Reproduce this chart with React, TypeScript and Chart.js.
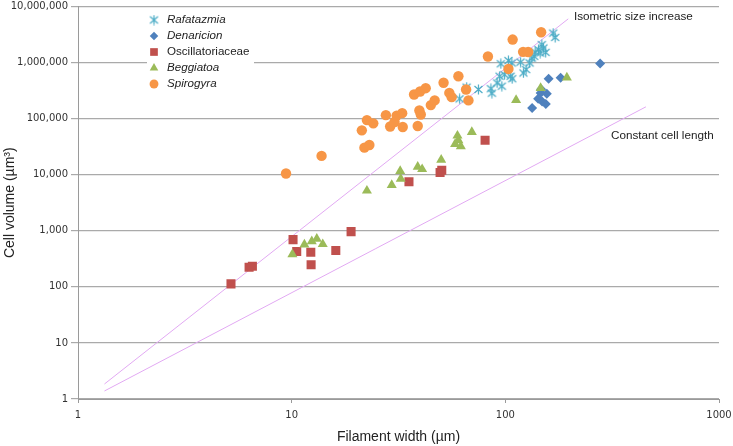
import React, { useEffect, useRef } from "react";
import { Chart, registerables } from "chart.js";
import { drawPoint } from "chart.js/helpers";

Chart.register(...registerables);

const seriesNames = ["Rafatazmia", "Denaricion", "Oscillatoriaceae", "Beggiatoa", "Spirogyra"];
const seriesItalic = [true, true, false, true, true];
const seriesColors = ["#4bacc6", "#4f81bd", "#c0504d", "#9bbb59", "#f79646"];

const rafatazmiaWidth = [61.1, 65.9, 74.8, 85.6, 86.5, 91.5, 96.3, 95.3, 94.0, 99.2, 103.4, 107.3, 105.9, 107.6, 117.9, 121.5, 125.1, 130.0, 133.1, 137.9, 142.9, 148.2, 145.5, 150.8, 154.4, 167.4, 171.1, 136.4];
const rafatazmiaVolume = [225000, 363000, 330000, 341000, 284000, 432000, 378000, 948000, 569000, 605000, 1081000, 980000, 569000, 513000, 1017000, 651000, 748000, 980000, 1202000, 1537000, 1694000, 2080000, 1475000, 1811000, 1517000, 3342000, 2803000, 1288000];

const denaricionWidth = [277.8, 159.4, 181.5, 147.1, 146.3, 156.4, 142.4, 148.7, 154.7, 133.5];
const denaricionVolume = [955000, 513000, 535000, 334000, 286000, 278000, 226000, 202000, 181000, 154000];

const oscillatoriaceaeWidth = [5.2, 6.32, 6.55, 10.15, 10.56, 12.29, 12.33, 16.09, 18.97, 35.4, 49.5, 50.4, 80.4];
const oscillatoriaceaeVolume = [113, 224, 233, 695, 425, 413, 247, 443, 964, 7450, 10900, 12000, 41000];

const beggiatoaWidth = [10.08, 11.47, 12.42, 13.11, 13.98, 22.5, 29.4, 32.2, 32.4, 38.9, 40.8, 50.1, 59.7, 60.3, 58.2, 61.9, 69.7, 112.3, 146.3, 194.1];
const beggiatoaVolume = [380, 565, 650, 720, 575, 5180, 6500, 11600, 8400, 13800, 12500, 18400, 49500, 40800, 35200, 32000, 57400, 214000, 350000, 538000];

const spirogyraWidth = [9.41, 13.8, 21.3, 22.5, 24.1, 21.9, 23.1, 27.6, 28.9, 30.3, 31.0, 32.9, 33.1, 37.4, 39.9, 42.4, 38.9, 39.6, 40.2, 44.8, 46.7, 51.4, 54.7, 56.1, 60.3, 65.5, 67.2, 82.9, 103.4, 108.2, 121.1, 127.9, 147.1];
const spirogyraVolume = [10500, 21600, 61700, 94000, 82200, 30300, 33800, 115000, 72100, 86700, 113000, 125000, 70600, 269000, 304000, 348000, 73600, 139000, 118000, 174000, 211000, 436000, 287000, 241000, 569000, 330000, 211000, 1279000, 767000, 2562000, 1549000, 1537000, 3466000];

const isometricWidth = [1.33, 197];
const isometricVolume = [1.85, 6.0e6];
const constantWidth = [1.33, 455];
const constantVolume = [1.39, 162000];

const xTicks = [1, 10, 100, 1000];
const yTicks = [1, 10, 100, 1000, 10000, 100000, 1000000, 10000000];

const isometricLabel = "Isometric size increase";
const constantLabel = "Constant cell length";
const xTitle = "Filament width (µm)";
const yTitle = "Cell volume (µm³)";

const toPoints = (xs: number[], ys: number[]) => xs.map((x, i) => ({ x, y: ys[i] }));

function makeStar(color: string) {
  const c = document.createElement("canvas");
  c.width = 11;
  c.height = 11;
  const g = c.getContext("2d")!;
  g.strokeStyle = color;
  g.lineWidth = 1.2;
  g.beginPath();
  g.moveTo(1.5, 2);
  g.lineTo(9.5, 9);
  g.moveTo(9.5, 2);
  g.lineTo(1.5, 9);
  g.moveTo(5.5, 0.5);
  g.lineTo(5.5, 10.5);
  g.stroke();
  return c;
}

export default function App() {
  const ref = useRef<HTMLCanvasElement | null>(null);

  useEffect(() => {
    if (!ref.current) return;
    const star = makeStar(seriesColors[0]);
    const styles: any[] = [star, "rectRot", "rect", "triangle", "circle"];
    const radii = [5, 5, 6.4, 5.8, 5.2];
    const xs = [rafatazmiaWidth, denaricionWidth, oscillatoriaceaeWidth, beggiatoaWidth, spirogyraWidth];
    const ys = [rafatazmiaVolume, denaricionVolume, oscillatoriaceaeVolume, beggiatoaVolume, spirogyraVolume];

    const scatterSets = seriesNames.map((name, i) => ({
      type: "scatter" as const,
      label: name,
      data: toPoints(xs[i], ys[i]),
      pointStyle: styles[i],
      pointRadius: radii[i],
      backgroundColor: seriesColors[i],
      borderColor: seriesColors[i],
      borderWidth: 0,
      order: 5 - i,
    }));

    const lineSets = [
      { w: isometricWidth, v: isometricVolume, label: isometricLabel },
      { w: constantWidth, v: constantVolume, label: constantLabel },
    ].map((l) => ({
      type: "line" as const,
      label: l.label,
      data: toPoints(l.w, l.v),
      borderColor: "#e2a9f3",
      borderWidth: 1,
      pointRadius: 0,
      showLine: true,
      fill: false,
      order: 10,
    }));

    const overlay = {
      id: "overlay",
      afterDatasetsDraw(chart: any) {
        const ctx = chart.ctx as CanvasRenderingContext2D;
        ctx.save();
        ctx.fillStyle = "#ffffff";
        ctx.fillRect(147, 9, 107, 86);
        seriesNames.forEach((name, i) => {
          const y = 20 + i * 16;
          ctx.fillStyle = seriesColors[i];
          ctx.strokeStyle = seriesColors[i];
          drawPoint(ctx, { pointStyle: styles[i], radius: radii[i] * 0.85, rotation: 0, borderWidth: 0 } as any, 154, y);
          ctx.fillStyle = "#222";
          ctx.textAlign = "left";
          ctx.textBaseline = "middle";
          ctx.font = `${seriesItalic[i] ? "italic " : ""}11.6px "Liberation Sans"`;
          ctx.fillText(name, 167, y);
        });
        ctx.font = '11.7px "Liberation Sans"';
        ctx.fillStyle = "#222";
        ctx.textBaseline = "middle";
        ctx.textAlign = "left";
        ctx.fillText(isometricLabel, 574, 17);
        ctx.fillText(constantLabel, 611, 136);
        ctx.restore();
      },
    };

    const chart = new Chart(ref.current, {
      type: "scatter",
      data: { datasets: [...scatterSets, ...lineSets] as any },
      options: {
        animation: false,
        responsive: false,
        devicePixelRatio: 1,
        layout: { padding: { top: 5, right: 14, left: 0, bottom: 0 } },
        plugins: { legend: { display: false }, tooltip: { enabled: false } },
        scales: {
          x: {
            type: "logarithmic",
            min: 1,
            max: 1000,
            afterBuildTicks: (s: any) => {
              s.ticks = xTicks.map((v) => ({ value: v }));
            },
            afterFit: (s: any) => {
              s.height = 47;
              s.paddingLeft = 0;
              s.paddingRight = 0;
            },
            grid: { drawOnChartArea: false, drawTicks: true, tickLength: 4, color: "#9a9a9a" },
            border: { display: true, color: "#9a9a9a", width: 1 },
            ticks: {
              autoSkip: false,
              maxRotation: 0,
              padding: 6,
              color: "#333",
              font: { family: "DejaVu Sans", size: 10 },
              callback: (v: any) => String(v),
            },
            title: {
              display: true,
              text: xTitle,
              color: "#222",
              font: { family: "Liberation Sans", size: 14 },
              padding: { top: 0, bottom: 0 },
            },
          },
          y: {
            type: "logarithmic",
            min: 1,
            max: 10000000,
            afterBuildTicks: (s: any) => {
              s.ticks = yTicks.map((v) => ({ value: v }));
            },
            afterFit: (s: any) => {
              s.width = 78;
              s.paddingTop = 0;
              s.paddingBottom = 0;
            },
            grid: { color: "#aaaaaa", lineWidth: 1.2, tickLength: 7 },
            border: { display: true, color: "#9a9a9a", width: 1 },
            ticks: {
              autoSkip: false,
              padding: 3,
              color: "#333",
              font: { family: "DejaVu Sans", size: 10 },
              callback: (v: any) => Number(v).toLocaleString("en-US"),
            },
            title: {
              display: true,
              text: yTitle,
              color: "#222",
              font: { family: "Liberation Sans", size: 14 },
              padding: { top: 2, bottom: 0 },
            },
          },
        },
      },
      plugins: [overlay],
    } as any);

    return () => chart.destroy();
  }, []);

  return (
    <div style={{ position: "absolute", left: 0, top: 0, width: 733, height: 446, background: "#fff" }}>
      <canvas ref={ref} width={733} height={446} style={{ display: "block" }} />
    </div>
  );
}
